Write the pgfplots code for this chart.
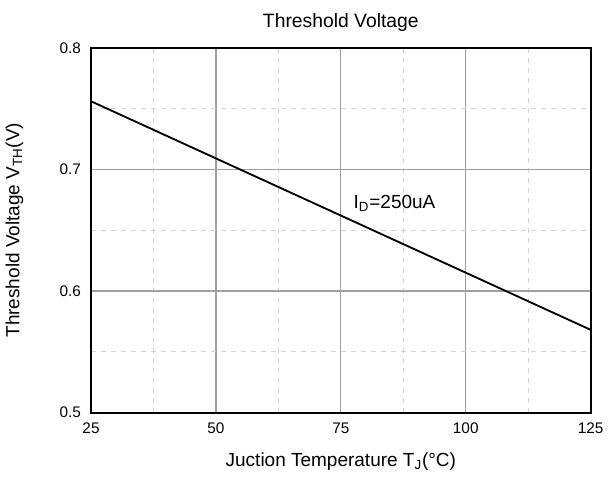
\documentclass[border=0pt]{standalone}
\usepackage{fontspec}
\setmainfont{Liberation Sans}
\usepackage{pgfplots}
\pgfplotsset{compat=1.18}

\begin{document}
\begin{tikzpicture}
    \begin{axis}[
        scale only axis,
        width=300pt, height=219pt,
        title={Threshold Voltage},
        xlabel={Juction Temperature T\textsubscript{J}(°C)},
        ylabel={Threshold Voltage V\textsubscript{TH}(V)},
        xmin=25, xmax=125,
        ymin=0.5, ymax=0.8,
        xtick={25,50,75,100,125},
        ytick={0.5,0.6,0.7,0.8},
        minor xtick={37.5,62.5,87.5,112.5},
        minor ytick={0.55,0.65,0.75},
        yticklabel style={/pgf/number format/fixed, /pgf/number format/precision=1, xshift=-2.5pt},
        xticklabel style={yshift=-2.5pt},
        /pgf/number format/assume math mode=true,
        major tick length=0pt, minor tick length=0pt,
        grid=both,
        major grid style={gray!75, line width=0.7pt},
        minor grid style={gray!35, dashed, line width=0.5pt},
        axis line style={black, line width=1.2pt},
        tick label style={font=\fontsize{9.2}{11}\selectfont},
        label style={font=\fontsize{11.4}{13}\selectfont},
        xlabel style={yshift=-5pt},
        ylabel style={yshift=15pt},
        title style={font=\fontsize{11.6}{13}\selectfont},
    ]
    % Vth vs Tj, Id = 250uA
    \addplot[black, line width=1.1pt] coordinates {
        (25, 0.756)
        (125, 0.568)
    };
    \node[anchor=west, inner sep=0pt, font=\fontsize{11.4}{13}\selectfont] at (axis cs:77.5,0.672) {I\textsubscript{D}=250uA};
    \end{axis}
    % a little room above the title, as in the reference
    \path ([yshift=5pt]current bounding box.north);
\end{tikzpicture}
\end{document}
